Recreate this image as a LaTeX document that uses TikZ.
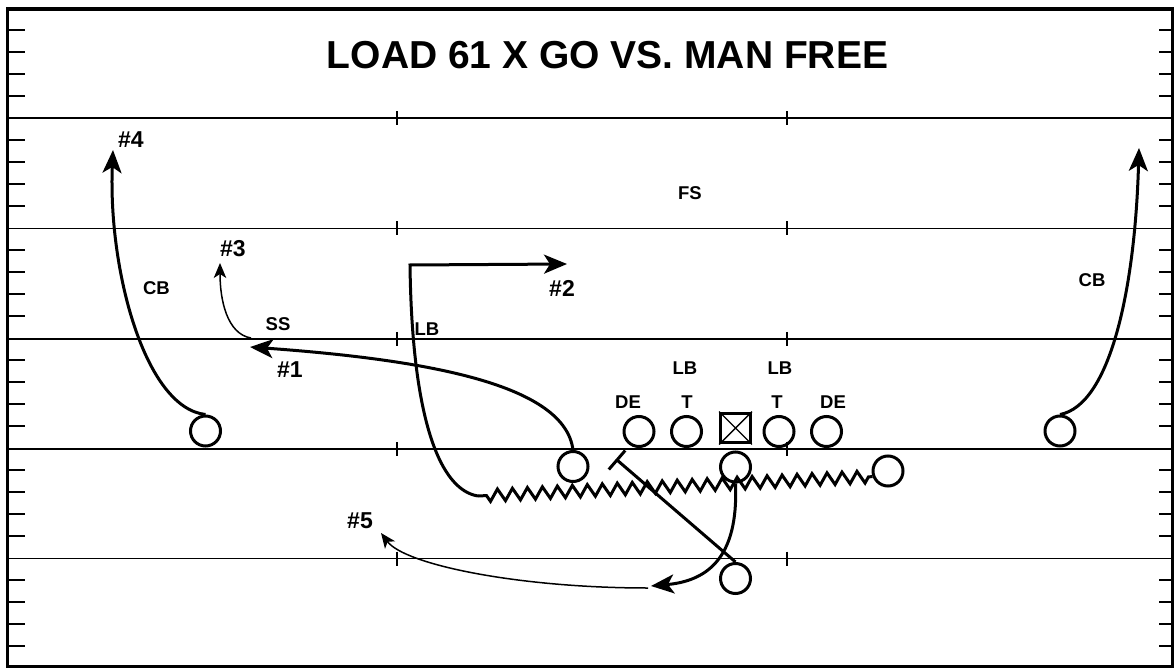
\documentclass[tikz,border=0pt]{standalone}
\usepackage{fontspec}
\setmainfont{Liberation Sans}
\usetikzlibrary{arrows.meta,decorations.pathmorphing}
\begin{document}
\begin{tikzpicture}[x=1pt,y=-1pt,
  yard/.style={line width=1.8pt},
  hash/.style={line width=1.8pt},
  frame/.style={line width=3.2pt},
  player/.style={circle, draw, line width=3pt, minimum size=30pt, inner sep=0pt},
  ctrbox/.style={rectangle, draw, line width=3.3pt, minimum size=29.5pt, inner sep=0pt},
  poslabel/.style={font=\bfseries\fontsize{18.5}{20}\selectfont, inner sep=0pt},
  numlabel/.style={font=\bfseries\fontsize{23}{25}\selectfont, inner sep=0pt},
  titlefont/.style={font=\bfseries\fontsize{39}{42}\selectfont, inner sep=0pt},
  route/.style={line width=3pt},
  thinroute/.style={line width=1.5pt},
  bigtip/.style={-{Stealth[length=23pt,width=19pt,inset=6pt]}},
  smalltip/.style={-{Stealth[length=15pt,width=12.5pt,inset=4pt]}},
  zz/.style={decorate, decoration={zigzag, amplitude=6pt, segment length=15pt, pre length=4pt, post length=4pt}},
]
\useasboundingbox (0,0) rectangle (1175,668);
\fill[white] (0,0) rectangle (1175,668);

% yard lines with inner hash marks
\foreach \yy in {118.3,228.5,338.8,449,558.5}{
  \draw[yard] (7.5,\yy) -- (1172.5,\yy);
  \draw[hash] (397,{\yy-7}) -- (397,{\yy+7});
  \draw[hash] (787,{\yy-7}) -- (787,{\yy+7});
}
% side hash marks
\foreach \k in {0,...,5}{
  \foreach \j in {1,...,4}{
    \draw[hash] (7.5,{8.3+110*\k+22*\j}) -- (25,{8.3+110*\k+22*\j});
    \draw[hash] (1159,{8.3+110*\k+22*\j}) -- (1172.5,{8.3+110*\k+22*\j});
  }
}
% frame
\draw[frame] (7.5,9) rectangle (1172.5,667);

% title
\node[titlefont] (title) at (607.5,55) {LOAD 61 X GO VS. MAN FREE};

% players
\node[player] (wrL) at (205.5,431) {};
\node[player] (wrR) at (1060,431) {};
\node[player] (slot) at (573,466.5) {};
\node[player] (olL2) at (639,431.5) {};
\node[player] (olL1) at (686.5,431.5) {};
\node[ctrbox] (ctr) at (735.5,428) {};
\draw[line width=1.4pt] (ctr.north west) -- (ctr.south east) (ctr.north east) -- (ctr.south west);
\node[player] (olR1) at (779,431.5) {};
\node[player] (olR2) at (826.5,431.5) {};
\node[player] (qb) at (735.5,467) {};
\node[player] (mot) at (888,471) {};
\node[player] (rb) at (735.5,578.5) {};

% defensive labels
\node[poslabel] (fs) at (690,193) {FS};
\node[poslabel] (ss) at (278,324) {SS};
\node[poslabel] (cbL) at (156.5,288) {CB};
\node[poslabel] (cbR) at (1092,280) {CB};
\node[poslabel] (lbL) at (427,329) {LB};
\node[poslabel] (lbM) at (685,368) {LB};
\node[poslabel] (lbR) at (780,368) {LB};
\node[poslabel] (deL) at (628,402) {DE};
\node[poslabel] (tL) at (687,402) {T};
\node[poslabel] (tR) at (777,402) {T};
\node[poslabel] (deR) at (833,402) {DE};

% receiver labels
\node[numlabel] (n4) at (131,140) {\#4};
\node[numlabel] (n3) at (233,248.5) {\#3};
\node[numlabel] (n1) at (290,370) {\#1};
\node[numlabel] (n2) at (562,288) {\#2};
\node[numlabel] (n5) at (360,521) {\#5};

% route coordinates
\coordinate (tip4) at (113,150);
\coordinate (tipR) at (1139,148);
\coordinate (tip1) at (250,347);
\coordinate (s3) at (251,338);
\coordinate (tip3) at (220,263);
\coordinate (zzend) at (478,496);
\coordinate (corner2) at (410,265);
\coordinate (tip2) at (567,264);
\coordinate (blk) at (617,460);
\coordinate (bk1) at (608.8,469.5);
\coordinate (bk2) at (625.2,450.5);
\coordinate (tipq) at (651,586);
\coordinate (s5) at (648,588);
\coordinate (tip5) at (381,533);

% routes
\draw[route,bigtip] (wrL.north) .. controls (145,408) and (108,270) .. (tip4);
\draw[route,bigtip] (wrR.north) .. controls (1110,405) and (1135,290) .. (tipR);
\draw[route,bigtip] (slot.north) .. controls (565,385) and (430,360) .. (tip1);
\draw[thinroute,smalltip] (s3) .. controls (227,334) and (220,300) .. (tip3);
\draw[route,zz] (mot.200) -- (zzend);
\draw[route,bigtip] (zzend) .. controls (440,490) and (412,420) .. (corner2) -- (tip2);
\draw[route] (rb.north) -- (blk);
\draw[route] (bk1) -- (bk2);
\draw[route,bigtip] (qb.south) .. controls (738,545) and (718,580) .. (tipq);
\draw[thinroute,smalltip] (s5) .. controls (520,588) and (405,565) .. (tip5);
\end{tikzpicture}
\end{document}
